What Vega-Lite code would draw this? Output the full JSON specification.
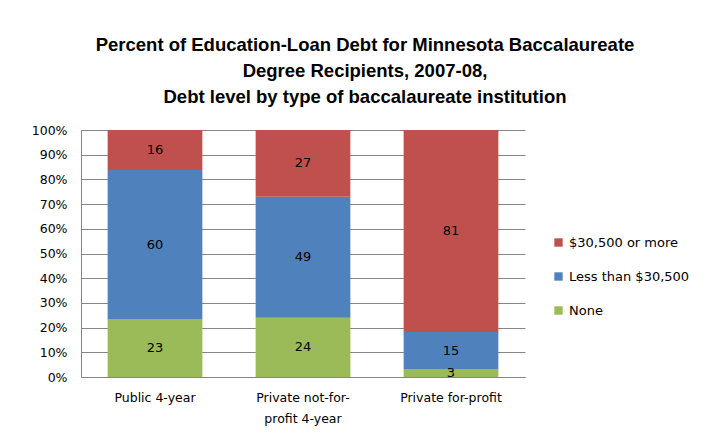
{
  "$schema": "https://vega.github.io/schema/vega-lite/v6.json",
  "width": 444,
  "height": 247,
  "autosize": "none",
  "padding": {"left": 81, "top": 130, "right": 183, "bottom": 63},
  "background": "white",
  "title": {
    "text": ["Percent of Education-Loan Debt for Minnesota Baccalaureate", "Degree Recipients, 2007-08,", "Debt level by type of baccalaureate institution"],
    "anchor": "middle",
    "dx": 62,
    "offset": 18,
    "font": "Liberation Sans",
    "fontSize": 18.5,
    "fontWeight": "bold",
    "color": "#000000",
    "lineHeight": 26
  },
  "data": {
    "values": [
      {"institution": "Public 4-year", "level": "None", "o": 1, "pct": 23},
      {"institution": "Public 4-year", "level": "Less than $30,500", "o": 2, "pct": 60},
      {"institution": "Public 4-year", "level": "$30,500 or more", "o": 3, "pct": 16},
      {"institution": "Private not-for-profit 4-year", "level": "None", "o": 1, "pct": 24},
      {"institution": "Private not-for-profit 4-year", "level": "Less than $30,500", "o": 2, "pct": 49},
      {"institution": "Private not-for-profit 4-year", "level": "$30,500 or more", "o": 3, "pct": 27},
      {"institution": "Private for-profit", "level": "None", "o": 1, "pct": 3},
      {"institution": "Private for-profit", "level": "Less than $30,500", "o": 2, "pct": 15},
      {"institution": "Private for-profit", "level": "$30,500 or more", "o": 3, "pct": 81}
    ]
  },
  "encoding": {
    "x": {
      "field": "institution",
      "type": "nominal",
      "sort": null,
      "scale": {"paddingInner": 0.36, "paddingOuter": 0.18},
      "axis": {
        "title": null,
        "labelAngle": 0,
        "labelFont": "DejaVu Sans",
        "labelFontSize": 12.5,
        "labelColor": "#000000",
        "labelPadding": 20,
        "labelLineHeight": 21,
        "labelBaseline": "middle",
        "labelExpr": "datum.label == 'Private not-for-profit 4-year' ? ['Private not-for-', 'profit 4-year'] : datum.label",
        "ticks": false,
        "domainColor": "#868686",
        "grid": false
      }
    },
    "y": {
      "field": "pct",
      "type": "quantitative",
      "stack": "normalize",
      "axis": {
        "title": null,
        "format": ".0%",
        "values": [0, 0.1, 0.2, 0.3, 0.4, 0.5, 0.6, 0.7, 0.8, 0.9, 1],
        "labelFont": "DejaVu Sans",
        "labelFontSize": 12.5,
        "labelColor": "#000000",
        "labelPadding": 14,
        "ticks": false,
        "domainColor": "#868686",
        "gridColor": "#868686",
        "gridWidth": 1
      }
    },
    "order": {"field": "o", "type": "quantitative"}
  },
  "layer": [
    {
      "mark": {"type": "bar"},
      "encoding": {
        "color": {
          "field": "level",
          "type": "nominal",
          "scale": {
            "domain": ["$30,500 or more", "Less than $30,500", "None"],
            "range": ["#C0504D", "#4F81BD", "#9BBB59"]
          },
          "legend": {
            "title": null,
            "orient": "none",
            "legendX": 471,
            "legendY": 106,
            "symbolType": "square",
            "symbolSize": 70,
            "symbolStrokeWidth": 0,
            "labelFont": "DejaVu Sans",
            "labelFontSize": 13,
            "labelColor": "#000000",
            "labelOffset": 4,
            "rowPadding": 20
          }
        }
      }
    },
    {
      "mark": {"type": "text", "font": "DejaVu Sans", "fontSize": 13, "color": "#000000", "baseline": "middle"},
      "encoding": {
        "y": {"field": "pct", "type": "quantitative", "stack": "normalize", "bandPosition": 0.5},
        "text": {"field": "pct", "type": "quantitative"}
      }
    }
  ],
  "config": {
    "view": {"stroke": null}
  }
}
